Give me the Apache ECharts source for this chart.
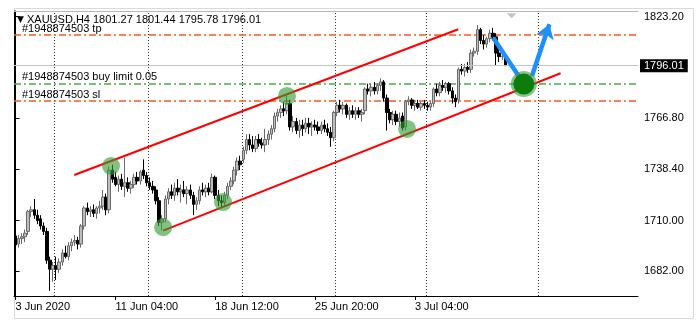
<!DOCTYPE html>
<html><head><meta charset="utf-8">
<script src="https://cdn.jsdelivr.net/npm/echarts@6/dist/echarts.min.js"></script>
<style>html,body{margin:0;padding:0;background:#fff}#c{width:699px;height:326px}</style>
</head><body><div id="c"></div><script>
// ---- data (XAUUSD H4) ----
const opens = [1701.5,1697,1700,1701,1704,1715,1716,1713,1711,1707,1704,1688,1683,1685,1683,1687,1692,1690,1696,1698,
1699,1697,1707,1717,1715,1716,1714,1717,1718,1723,1716,1738,1734,1730,1733,1729,1731,1728,1730,1734,
1732,1738,1735,1731,1729,1727,1721,1709,1711,1722,1726,1724,1728,1726,1727,1725,1727,1724,1719,1721,
1727,1726,1728,1726,1734,1724,1721,1720,1724,1729,1732,1738,1743,1744,1749,1755,1752,1750,1755,1753,
1752,1755,1758,1761,1768,1770,1772,1771,1775,1762,1765,1760,1763,1761,1764,1762,1763,1762,1760,1763,
1761,1759,1756,1770,1774,1772,1774,1769,1771,1769,1771,1769,1771,1783,1782,1784,1782,1785,1787,1778,
1770,1766,1769,1765,1768,1762,1776,1777,1774,1775,1773,1775,1774,1773,1775,1783,1781,1785,1784,1786,
1782,1778,1777,1794,1793,1795,1794,1803,1804,1816,1810,1808,1811,1814,1812,1803,1801,1801.27];
const highs = [1703.5,1702,1703,1705,1716,1718,1722,1716,1713,1709,1706,1690,1687,1690,1689,1694,1696,1698,1700,1702,
1701,1708,1718,1720,1718,1719,1718,1721,1727,1725,1740,1741,1737,1735,1736,1745,1734,1732,1736,1737,
1738,1744,1737,1734,1732,1729,1723,1713,1724,1728,1730,1731,1733,1730,1732,1729,1730,1726,1723,1729,
1731,1730,1731,1736,1735,1727,1724,1726,1731,1734,1740,1745,1746,1751,1758,1758,1757,1757,1758,1756,
1761,1760,1763,1770,1772,1774,1776,1779.5,1777,1768,1767,1766,1766,1767,1767,1765,1766,1765,1765,1766,
1764,1762,1771,1776,1777,1776,1775,1773,1774,1773,1773,1772,1784,1786,1786,1787,1786,1789,1788,1780,
1772,1771,1771,1770,1770,1777,1779,1778,1777,1777,1776,1777,1776,1776,1784,1786,1787,1788,1787,1787,
1784,1780,1795,1797,1797,1798,1805,1806,1818.6,1817,1813,1812,1816,1817,1814,1806,1804,1801.44];
const lows = [1694,1695,1697,1698,1702,1712,1711,1708,1705,1702,1686,1671,1676,1677,1681,1685,1689,1688,1693,1696,
1694,1695,1705,1713,1712,1712,1711,1714,1716,1713,1714,1731,1729,1726,1727,1723,1726,1725,1728,1730,
1730,1733,1729,1727,1725,1719,1707,1704.5,1709,1719,1722,1721,1724,1720,1723,1719,1722,1713,1716,1719,
1724,1723,1724,1725,1722,1718,1717,1718,1722,1727,1730,1735,1738,1742,1747,1749,1748,1748,1751,1750,
1748,1752,1755,1759,1765,1767,1768,1769,1760,1759,1758,1756,1757,1759,1758,1757,1760,1758,1758,1759,
1757,1751,1754,1768,1770,1769,1767,1766,1767,1766,1767,1765,1769,1780,1779,1780,1780,1782,1776,1760,
1764,1763,1763,1762,1760,1760,1774,1772,1771,1772,1771,1772,1771,1771,1773,1779,1779,1782,1781,1780,
1775,1773,1775,1791,1790,1792,1792,1801,1802,1808,1805,1806,1809,1810,1796,1798,1799,1795.78];
const closes = [1696.5,1700,1701,1703,1715,1716,1713,1710,1707,1704,1688,1683,1685,1683,1687,1692,1690,1696,1698,1699,
1697,1707,1717,1715,1716,1714,1717,1718,1723,1716,1738,1733,1730,1733,1729,1731,1728,1730,1734,1732,
1737,1735,1731,1729,1727,1721,1709,1711,1722,1726,1724,1728,1726,1727,1725,1727,1724,1719,1721,1727,
1726,1728,1726,1734,1724,1721,1720,1724,1729,1732,1738,1743,1741,1749,1755,1752,1750,1755,1753,1752,
1755,1758,1761,1768,1770,1772,1771,1775,1762,1765,1760,1763,1761,1764,1762,1763,1762,1760,1763,1761,
1759,1756,1770,1774,1772,1774,1769,1771,1769,1771,1769,1770,1783,1782,1784,1782,1785,1787,1778,1770,
1766,1769,1765,1767,1761.5,1776,1777,1774,1775,1773,1775,1774,1773,1775,1783,1781,1785,1784,1786,1782,
1778,1776,1794,1793,1795,1794,1803,1804,1816,1810,1808,1811,1814,1812,1803,1801,1801.27,1796.01];
const slotCount = 200;
const categories = Array.from({length: slotCount}, (_, i) => String(i));
const tickIndex = [0, 32, 64, 96, 128];
const tickText = ['3 Jun 2020', '11 Jun 04:00', '18 Jun 12:00', '25 Jun 20:00', '3 Jul 04:00'];
const priceTicks = [1682.00, 1710.00, 1738.40, 1766.80, 1823.20];
const weekStarts = [12.5, 42.5, 72.5, 102.5, 131.5, 167.5];
const orderNames = ['#1948874503 tp', '#1948874503 buy limit 0.05', '#1948874503 sl'];
const orderPrices = [1812.9, 1786.0, 1776.4];
const bidPrice = 1796.01;
const symbolName = 'XAUUSD,H4';
const lastBar = ['1801.27', '1801.44', '1795.78', '1796.01'];
const channelUpper = [[18.8, 1735.3], [141.9, 1816.2]];
const channelLower = [[47.3, 1704.4], [174.7, 1791.8]];
const touchPoints = [[30.6, 1740.3], [47.3, 1706.3], [66.5, 1720.3], [87.0, 1779.2], [125.5, 1760.9]];
const entryPoint = [162.9, 1785.8];
const arrowDown = [[153.1, 1811.5], [161.3, 1790.2]];
const arrowUp = [[165.5, 1790.3], [171.1, 1819.0]];
const shiftMarker = [159.0, 1823.7];

// ---- chart ----
const FONT = 'Liberation Sans';
const chart = echarts.init(document.getElementById('c'), null, {renderer: 'canvas'});
const candleData = opens.map((o, i) => [o, closes[i], lows[i], highs[i]]);
const orderColors = ['#ff5522', '#44b044', '#ff5522'];
const yMin = 1668.13, yMax = 1826.36;
const xLo = -0.5, xHi = slotCount - 0.5;

function orderLineSeries(k) {
  const c = orderColors[k];
  return {
    type: 'lines', coordinateSystem: 'cartesian2d', xAxisIndex: 1, yAxisIndex: 0, z: 2, silent: true,
    lineStyle: {color: c, type: [7, 3, 2, 3], width: 1.6, opacity: 1},
    label: {show: true, formatter: orderNames[k], position: 'insideStartTop', distance: [8, 1],
      color: '#000', fontSize: 11, fontFamily: FONT},
    data: [{coords: [[xLo, orderPrices[k]], [xHi, orderPrices[k]]]}]
  };
}

const option = {
  animation: false,
  backgroundColor: '#fff',
  title: {
    left: 17, top: 14, padding: 0,
    text: '{t|▼} ' + symbolName + ' ' + lastBar.join(' '),
    textStyle: {fontSize: 11, fontWeight: 'normal', color: '#000', fontFamily: FONT,
      rich: {t: {fontSize: 9, color: '#000', fontFamily: 'DejaVu Sans'}}}
  },
  graphic: [{type: 'rect', silent: true, z: -1,
    shape: {x: 14.5, y: 8.5, width: 679, height: 310},
    style: {fill: 'none', stroke: '#dadada', lineWidth: 1}}],
  grid: {left: 14, top: 11, right: 61, bottom: 30, containLabel: false},
  xAxis: [{
    type: 'category', data: categories, boundaryGap: true,
    axisLine: {show: true, lineStyle: {color: '#000', width: 1}},
    axisTick: {show: true, alignWithLabel: true, length: 4, lineStyle: {color: '#000'},
      interval: (i) => tickIndex.includes(i)},
    axisLabel: {show: true, interval: (i) => tickIndex.includes(i), align: 'left', margin: 5,
      fontSize: 11, color: '#000', fontFamily: FONT,
      formatter: (v) => tickText[tickIndex.indexOf(Number(v))] || ''},
    splitLine: {show: false}
  }, {
    type: 'value', min: xLo, max: xHi, position: 'top',
    axisLine: {show: true, onZero: false, lineStyle: {color: '#b8b8b8', width: 1}},
    axisTick: {show: false}, axisLabel: {show: false}, splitLine: {show: false}
  }],
  yAxis: [{
    type: 'value', position: 'right', min: yMin, max: yMax, scale: true,
    axisLine: {show: true, lineStyle: {color: '#000', width: 1}},
    axisTick: {show: true, length: 4, inside: false, customValues: priceTicks, lineStyle: {color: '#000'}},
    axisLabel: {show: true, customValues: priceTicks, margin: 6, fontSize: 11, color: '#000', fontFamily: FONT,
      formatter: (v) => Number(v).toFixed(2)},
    splitLine: {show: false}
  }, {
    type: 'value', position: 'left', min: yMin, max: yMax,
    axisLine: {show: true, onZero: false, lineStyle: {color: '#000', width: 1}},
    axisTick: {show: false}, axisLabel: {show: false}, splitLine: {show: false}
  }],
  series: [
    orderLineSeries(0), orderLineSeries(1), orderLineSeries(2),
    {
      type: 'line', xAxisIndex: 1, yAxisIndex: 0, data: [], z: 2, silent: true,
      color: '#c4c4c4',
      markLine: {
        silent: true, symbol: 'none', animation: false,
        lineStyle: {color: '#c4c4c4', type: 'solid', width: 1, opacity: 1},
        label: {show: true, position: 'end', formatter: bidPrice.toFixed(2), distance: 2,
          color: '#fff', backgroundColor: '#000', padding: [1, 4, 1, 4], fontSize: 11, fontFamily: FONT},
        data: [{yAxis: bidPrice}]
      }
    },
    {
      type: 'candlestick', xAxisIndex: 0, yAxisIndex: 0, data: candleData, barWidth: 3, z: 3,
      itemStyle: {color: '#bdbdbd', color0: '#000', borderColor: '#6a6a6a', borderColor0: '#000', borderWidth: 1}
    },
    {
      type: 'scatter', xAxisIndex: 1, yAxisIndex: 0, z: 1, data: [shiftMarker],
      symbol: 'triangle', symbolRotate: 180, symbolSize: [10, 5], itemStyle: {color: '#c4c4c4', opacity: 1}, silent: true
    },
    {
      type: 'lines', coordinateSystem: 'cartesian2d', xAxisIndex: 1, yAxisIndex: 0, z: 1, silent: true,
      lineStyle: {color: '#333', type: [1, 2], width: 1, opacity: 1},
      data: weekStarts.map(v => ({coords: [[v, yMin], [v, yMax]]}))
    },
    {
      type: 'lines', coordinateSystem: 'cartesian2d', xAxisIndex: 1, yAxisIndex: 0, z: 5, silent: true,
      lineStyle: {color: '#ff0000', width: 2, opacity: 1},
      data: [{coords: channelUpper}, {coords: channelLower}]
    },
    {
      type: 'scatter', xAxisIndex: 1, yAxisIndex: 0, z: 6, silent: true, data: touchPoints,
      symbolSize: 18, itemStyle: {color: 'rgba(52,155,52,0.62)', opacity: 1}
    },
    {
      type: 'lines', coordinateSystem: 'cartesian2d', xAxisIndex: 1, yAxisIndex: 0, z: 7, silent: true,
      lineStyle: {color: '#1e8fff', width: 4.5, opacity: 1, cap: 'butt'},
      data: [{coords: arrowDown}]
    },
    {
      type: 'lines', coordinateSystem: 'cartesian2d', xAxisIndex: 1, yAxisIndex: 0, z: 7, silent: true,
      symbol: ['none', 'arrow'], symbolSize: 14,
      lineStyle: {color: '#1e8fff', width: 4.5, opacity: 1, cap: 'butt'},
      data: [{coords: arrowUp}]
    },
    {
      type: 'scatter', xAxisIndex: 1, yAxisIndex: 0, z: 8, silent: true, data: [entryPoint],
      symbolSize: 26, itemStyle: {color: 'rgba(60,155,60,0.6)', opacity: 1}
    },
    {
      type: 'scatter', xAxisIndex: 1, yAxisIndex: 0, z: 9, silent: true, data: [entryPoint],
      symbolSize: 21, itemStyle: {color: '#0c7d0c', opacity: 1}
    }
  ]
};
chart.setOption(option);
</script></body></html>
